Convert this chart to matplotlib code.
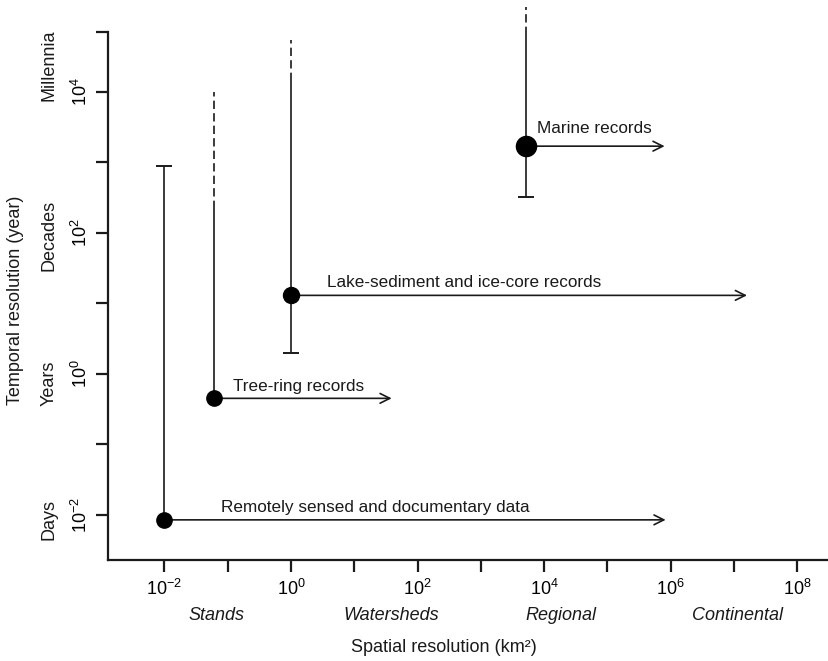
import matplotlib
matplotlib.use("Agg")
import matplotlib.pyplot as plt
from matplotlib.transforms import blended_transform_factory

plt.rcParams['font.family'] = ['Liberation Sans', 'DejaVu Sans']
plt.rcParams['mathtext.fontset'] = 'custom'
plt.rcParams['mathtext.rm'] = 'Liberation Sans'
plt.rcParams['mathtext.it'] = 'Liberation Sans:italic'

# ---- data ----
record_names = ["Remotely sensed and documentary data", "Tree-ring records",
                "Lake-sediment and ice-core records", "Marine records"]
spatial_res = [1e-2, 0.062, 1.0, 5100.0]          # km^2 (point)
temporal_res = [0.0085, 0.45, 13.0, 1700.0]       # years (point)
spatial_max = [8.3e5, 39.0, 1.6e7, 8.0e5]         # arrow end
temporal_low = [0.0085, 0.45, 2.0, 320.0]         # bottom of vertical range
temporal_solid_top = [900.0, 220.0, 14500.0, 65000.0]
temporal_dashed_top = [None, 1.0e4, 55000.0, 160000.0]
low_capped = [False, False, True, True]
top_capped = [True, False, False, False]

x_ticks = [1e-2, 1e0, 1e2, 1e4, 1e6, 1e8]
x_ticklabels = [r"$10^{-2}$", r"$10^{0}$", r"$10^{2}$", r"$10^{4}$", r"$10^{6}$", r"$10^{8}$"]
x_minor = [1e-1, 1e1, 1e3, 1e5, 1e7]
y_ticks = [1e-2, 1e0, 1e2, 1e4]
y_ticklabels = [r"$10^{-2}$", r"$10^{0}$", r"$10^{2}$", r"$10^{4}$"]
y_minor = [1e-1, 1e1, 1e3, 10**4.85]

spatial_scales = ["Stands", "Watersheds", "Regional", "Continental"]
spatial_scale_pos = [10**-1.17, 10**1.59, 10**4.27, 10**7.05]
temporal_scales = ["Days", "Years", "Decades", "Millennia"]
temporal_scale_pos = [10**-2.07, 10**-0.13, 10**1.97, 10**4.38]

# ---- figure ----
fig = plt.figure(figsize=(8.29, 6.61), dpi=100)
ax = fig.add_axes([108/829, 101/661, 1 - 108/829, (560-32)/661])
ax.set_xscale('log')
ax.set_yscale('log')
ax.set_xlim(10**-2.89, 10**8.5)
ax.set_ylim(10**-2.64, 10**4.85)

for s in ['top', 'right']:
    ax.spines[s].set_visible(False)
for s in ['left', 'bottom']:
    ax.spines[s].set_linewidth(1.6)
    ax.spines[s].set_color('#1a1a1a')

ax.set_xticks(x_ticks)
ax.set_xticklabels(x_ticklabels, fontsize=13)
ax.set_xticks(x_minor, minor=True)
ax.set_yticks(y_ticks)
ax.set_yticklabels(y_ticklabels, fontsize=13, rotation=90, va='center')
ax.set_yticks(y_minor, minor=True)
ax.tick_params(which='both', direction='out', length=8.5, width=1.6, color='#1a1a1a')
ax.tick_params(axis='x', which='major', pad=5)
ax.tick_params(axis='y', which='major', pad=4)
ax.tick_params(which='minor', labelleft=False, labelbottom=False)

col = '#1a1a1a'
label_offsets = [(57, 12), (19, 12), (36, 13), (11, 18)]
marker_sizes = [11, 11, 11.5, 14.5]

for i, name in enumerate(record_names):
    x = spatial_res[i]
    y = temporal_res[i]
    # vertical solid range
    ax.plot([x, x], [temporal_low[i], temporal_solid_top[i]], color=col, lw=1.2,
            solid_capstyle='butt')
    if temporal_dashed_top[i] is not None:
        ax.plot([x, x], [temporal_solid_top[i], temporal_dashed_top[i]], color=col,
                lw=1.2, dashes=(5, 2.5), clip_on=False)
    if low_capped[i]:
        ax.plot([x], [temporal_low[i]], marker='_', ms=11, mew=1.4, color=col)
    if top_capped[i]:
        ax.plot([x], [temporal_solid_top[i]], marker='_', ms=12, mew=1.4, color=col)
    # horizontal arrow
    ax.annotate("", xy=(spatial_max[i], y), xytext=(x, y),
                arrowprops=dict(arrowstyle="->,head_length=0.7,head_width=0.35",
                                color=col, lw=1.2, shrinkA=0, shrinkB=0))
    ax.plot([x], [y], 'o', ms=marker_sizes[i], color='black', zorder=5, clip_on=False)
    dx, dy = label_offsets[i]
    ax.annotate(name, xy=(x, y), xytext=(dx, dy), textcoords='offset pixels',
                ha='left', va='center', fontsize=12.3, color=col)

# scale descriptors
tx = blended_transform_factory(ax.transData, fig.transFigure)
for name, pos in zip(spatial_scales, spatial_scale_pos):
    fig.text(pos, 1 - 615/661, name, transform=tx, ha='center', va='center',
             fontsize=13, style='italic', color=col)
ty = blended_transform_factory(fig.transFigure, ax.transData)
for name, pos in zip(temporal_scales, temporal_scale_pos):
    fig.text(49/829, pos, name, transform=ty, ha='center', va='center',
             fontsize=13, rotation=90, color=col)

fig.text(444/829, 1 - 648/661, "Spatial resolution (km²)", ha='center', va='center',
         fontsize=13, color=col)
fig.text(16/829, 1 - 300/661, "Temporal resolution (year)", ha='center', va='center',
         fontsize=13, rotation=90, color=col)

fig.savefig("out.png", dpi=100)
